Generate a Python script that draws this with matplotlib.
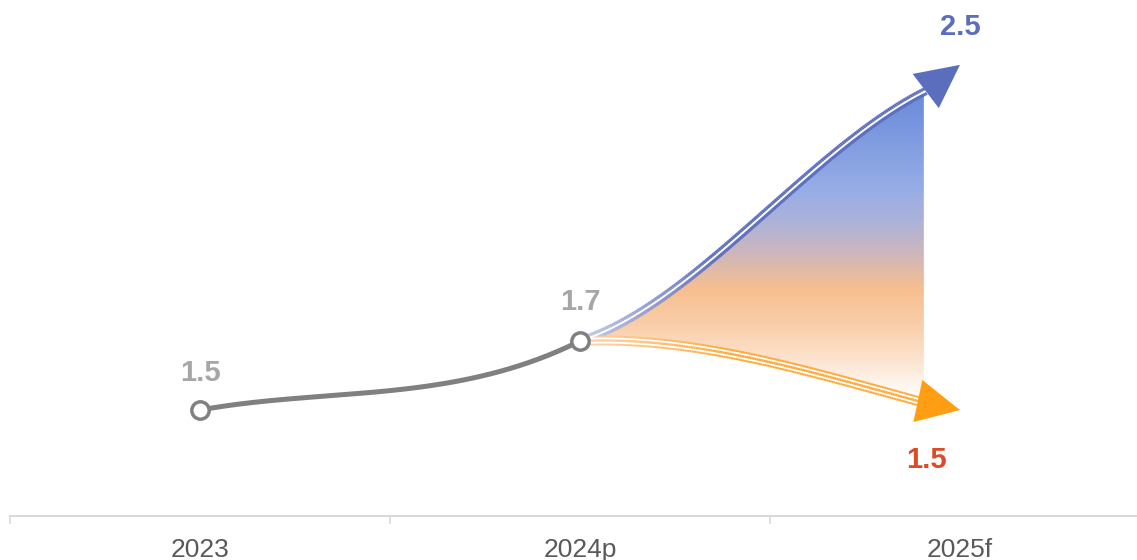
import numpy as np
import matplotlib
matplotlib.use("Agg")
import matplotlib.pyplot as plt
from matplotlib.colors import LinearSegmentedColormap, Normalize, to_rgb
from matplotlib.collections import LineCollection
from matplotlib.patches import Polygon, FancyArrowPatch

plt.rcParams['font.family'] = ['Liberation Sans', 'DejaVu Sans']

years = ['2023', '2024p', '2025f']
actual = [1.5, 1.7]          # 2023, 2024p
forecast_high = 2.5          # 2025f upper scenario
forecast_low = 1.5           # 2025f lower scenario

GREY = '#808080'
BLUE = '#5b6dbd'
ORANGE = '#ff9e12'
RED = '#dd4a25'

HEAD_LEN = 31    # points
HEAD_HALF = 15.5


def hermite(x0, y0, x1, y1, m0, m1, n=200):
    t = np.linspace(0, 1, n)
    h00 = 2 * t**3 - 3 * t**2 + 1
    h10 = t**3 - 2 * t**2 + t
    h01 = -2 * t**3 + 3 * t**2
    h11 = t**3 - t**2
    dx = x1 - x0
    xs = x0 + t * dx
    ys = h00 * y0 + h10 * m0 * dx + h01 * y1 + h11 * m1 * dx
    return xs, ys


def head_base(ax, tip, angle):
    # point one head-length behind the tip, along the arrow's angle (degrees, screen)
    px = HEAD_LEN * ax.figure.dpi / 72
    tx, ty = ax.transData.transform(tip)
    a = np.radians(angle)
    bx, by = tx - px * np.cos(a), ty - px * np.sin(a)
    return ax.transData.inverted().transform((bx, by))


def fade_line(ax, xs, ys, c_start, c_end, fade_until, lw, z):
    pts = np.column_stack([xs, ys]).reshape(-1, 1, 2)
    segs = np.concatenate([pts[:-1], pts[1:]], axis=1)
    f = np.clip((xs[:-1] - xs[0]) / (fade_until - xs[0]), 0, 1)[:, None]
    cols = (1 - f) * np.array(to_rgb(c_start)) + f * np.array(to_rgb(c_end))
    lc = LineCollection(segs, colors=cols, linewidths=lw, capstyle='butt',
                        joinstyle='round', zorder=z)
    ax.add_collection(lc)


fig = plt.figure(figsize=(11.37, 5.6), dpi=100)
ax = fig.add_axes([10 / 1137, 44 / 560, 1127 / 1137, 516 / 560])
ax.set_xlim(-0.5, 2.466)
ax.set_ylim(1.193, 2.688)

# actual path 2023 -> 2024p
xa, ya = hermite(0, actual[0], 1, actual[1], 0.2, 0.55)
ax.plot(xa, ya, color=GREY, lw=3.6, solid_capstyle='round', zorder=5)

# scenario curves 2024p -> arrow heads at 2025f
hi_tip = (2, forecast_high)
lo_tip = (2, forecast_low)
hi_ang, lo_ang = 37.4, -12.1
hb = head_base(ax, hi_tip, hi_ang)
lb = head_base(ax, lo_tip, lo_ang)
xh, yh = hermite(1, actual[1], hb[0], hb[1], 0.35, 0.55)
xl, yl = hermite(1, actual[1], lb[0], lb[1], 0.05, -0.3)

# gradient fan between the two scenarios
fill_end = 1.905
mh = xh <= fill_end
ml = xl <= fill_end
poly = np.vstack([np.column_stack([xh[mh], yh[mh]]),
                  [[fill_end, np.interp(fill_end, xh, yh)]],
                  [[fill_end, np.interp(fill_end, xl, yl)]],
                  np.column_stack([xl[ml], yl[ml]])[::-1]])
clip = Polygon(poly, closed=True, facecolor='none', edgecolor='none')
ax.add_patch(clip)

stops = [(1.53, '#ffffff'), (1.654, '#fce1cb'), (1.75, '#f9cda8'),
         (1.848, '#f7bf8f'), (1.964, '#c9b6c0'), (2.05, '#abb2da'),
         (2.138, '#97ade6'), (2.40, '#6c8ddb')]
lo, hi = stops[0][0], stops[-1][0]
cmap = LinearSegmentedColormap.from_list(
    'fan', [((v - lo) / (hi - lo), c) for v, c in stops])
grad = np.linspace(1.5, 2.5, 400)[:, None] * np.ones((1, 10))
im = ax.imshow(grad, extent=[1, fill_end, 1.5, 2.5], origin='lower',
               cmap=cmap, norm=Normalize(lo, hi), aspect='auto', zorder=2)
im.set_clip_path(clip)

# upper scenario: double line
fade_line(ax, xh, yh, '#c6cbe7', BLUE, 1.35, 6.0, 3)
ax.plot(xh, yh, color='white', lw=1.4, solid_capstyle='butt', zorder=3.1)

# lower scenario: triple line
fade_line(ax, xl, yl, '#fcd3ab', '#ffa630', 1.4, 7.2, 3)
ax.plot(xl, yl, color='white', lw=4.3, solid_capstyle='butt', zorder=3.1)
fade_line(ax, xl, yl, '#fcd3ab', '#ffa630', 1.4, 1.7, 3.2)

# arrow heads
for base, tip, col in [(hb, hi_tip, BLUE), (lb, lo_tip, ORANGE)]:
    head = FancyArrowPatch(tuple(base), tip,
                           arrowstyle=f'-|>,head_length={HEAD_LEN},head_width={HEAD_HALF}',
                           mutation_scale=1, lw=0, color=col,
                           shrinkA=0, shrinkB=0, zorder=4)
    ax.add_patch(head)

# markers
ax.plot([0, 1], actual, 'o', ms=12.5, mfc='white', mec=GREY, mew=2.5, zorder=6)

# value labels
lab = dict(fontsize=21, fontweight='bold', ha='center', va='center',
           textcoords='offset points')
ax.annotate(f'{actual[0]}', (0, actual[0]), xytext=(0, 27), color='#a6a6a6', **lab)
ax.annotate(f'{actual[1]}', (1, actual[1]), xytext=(0, 28), color='#a6a6a6', **lab)
ax.annotate(f'{forecast_high}', (2, forecast_high), xytext=(0, 27), color=BLUE, **lab)
ax.annotate(f'{forecast_low}', (2, forecast_low), xytext=(-24, -36), color=RED, **lab)

# category axis
for s in ['top', 'right', 'left']:
    ax.spines[s].set_visible(False)
ax.spines['bottom'].set_color('#d9d9d9')
ax.spines['bottom'].set_linewidth(1.5)
ax.set_yticks([])
ax.set_xticks(range(len(years)))
ax.set_xticklabels(years, fontsize=19, color='#595959')
ax.set_xticks([-0.5, 0.5, 1.5], minor=True)
ax.tick_params(axis='x', which='major', length=0, pad=16)
ax.tick_params(axis='x', which='minor', length=6, width=1.2, color='#d9d9d9')

fig.savefig('out.png', dpi=100)
